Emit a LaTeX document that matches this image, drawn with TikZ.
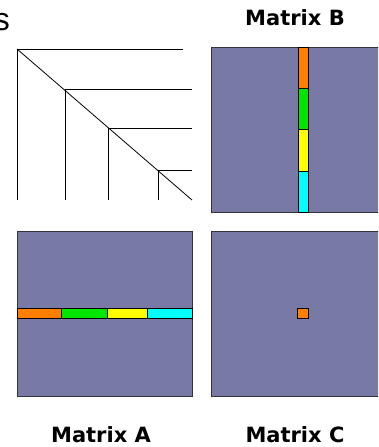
\documentclass[tikz,border=0pt]{standalone}
\usepackage{fontspec}
\setmainfont{DejaVu Sans}
\newfontfamily\arialfont{Liberation Sans}
\definecolor{matfill}{RGB}{120,122,165}
\definecolor{segorange}{RGB}{255,128,0}
\definecolor{seggreen}{RGB}{0,230,0}
\definecolor{segyellow}{RGB}{255,255,0}
\definecolor{segcyan}{RGB}{0,255,255}
\begin{document}
\begin{tikzpicture}[x=1pt,y=-1pt,
  matbox/.style={fill=matfill,draw={rgb,255:red,50;green,50;blue,60},line width=1pt},
  seg/.style={draw=black,line width=1pt},
  tri/.style={draw=black,line width=0.8pt},
  title/.style={font=\fontsize{21}{24}\selectfont\bfseries,inner sep=0pt}]
\useasboundingbox (0,0) rectangle (378,447);
\clip (0,0) rectangle (378,447);
% partial title letter
\node[font=\arialfont\fontsize{32}{36}\selectfont,anchor=base east,inner sep=0pt] (ttl) at (10,30) {s};
% triangular structure
\draw[tri] (17,200) -- (17,49) -- (183,49);
\draw[tri] (17,49) -- (192,200);
\draw[tri] (65,200) -- (65,89) -- (192,89);
\draw[tri] (108,200) -- (108,128) -- (192,128);
\draw[tri] (158,200) -- (158,170) -- (192,170);
% Matrix B
\node[title] (lb) at (295,18) {Matrix B};
\draw[matbox] (211,47) rectangle (390,212);
\draw[seg,fill=segorange] (298,47) rectangle (308,88);
\draw[seg,fill=seggreen] (298,88) rectangle (308,129);
\draw[seg,fill=segyellow] (298,129) rectangle (308,171);
\draw[seg,fill=segcyan] (298,171) rectangle (308,212);
% Matrix A
\draw[matbox] (17,231) rectangle (192,396);
\draw[seg,fill=segorange] (17,308) rectangle (61,318);
\draw[seg,fill=seggreen] (61,308) rectangle (107,318);
\draw[seg,fill=segyellow] (107,308) rectangle (147,318);
\draw[seg,fill=segcyan] (147,308) rectangle (192,318);
\node[title] (la) at (101,435) {Matrix A};
% Matrix C
\draw[matbox] (211,231) rectangle (390,396);
\draw[seg,fill=segorange] (297,308) rectangle (308,318);
\node[title] (lc) at (295,435) {Matrix C};
\end{tikzpicture}
\end{document}
